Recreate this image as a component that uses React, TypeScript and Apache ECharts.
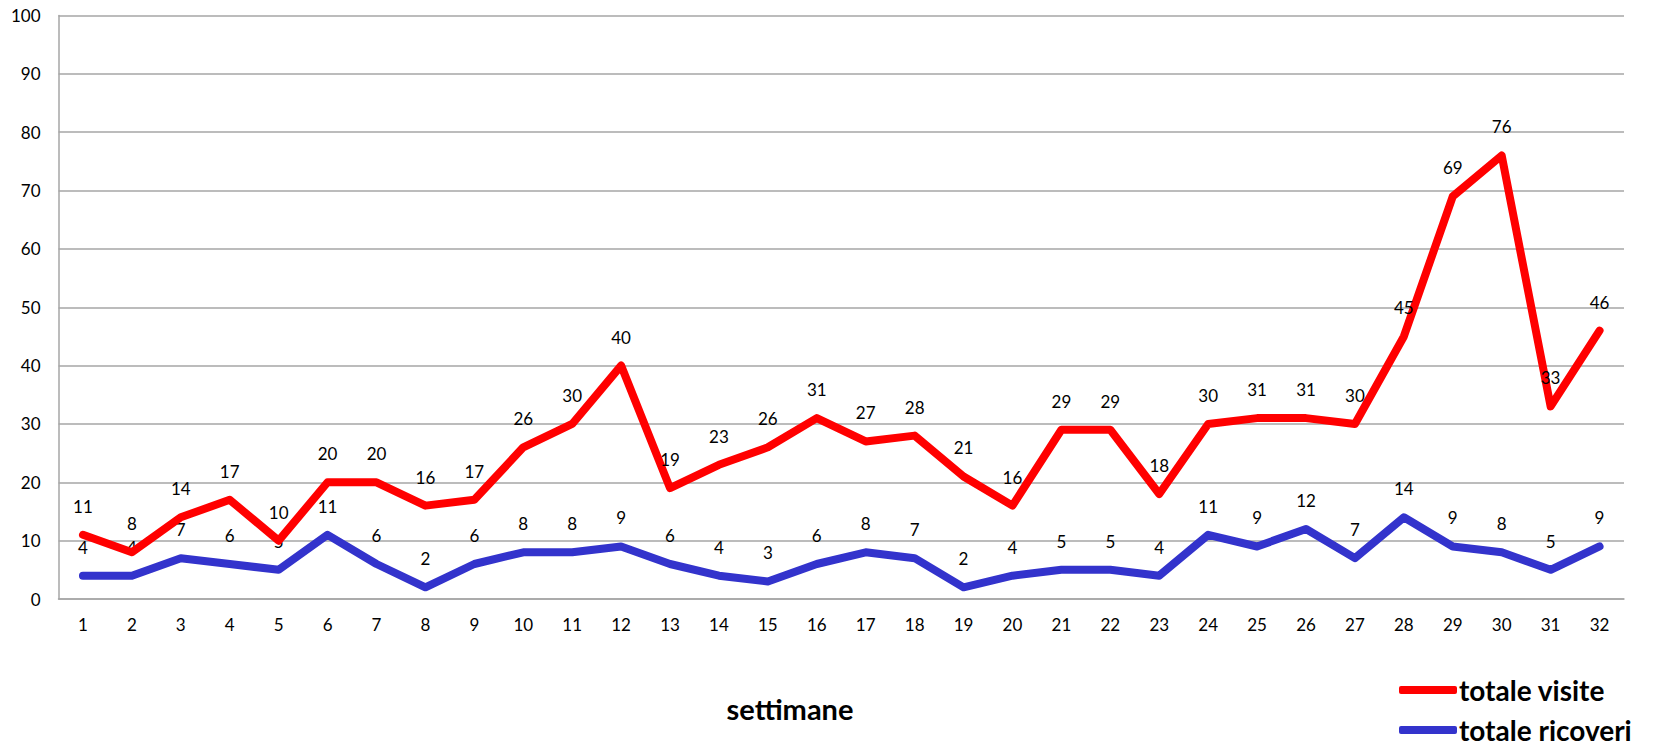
import React, { useEffect, useRef } from "react";
import * as echarts from "echarts";

const weeks = Array.from({ length: 32 }, (_, i) => String(i + 1));
const visite = [11, 8, 14, 17, 10, 20, 20, 16, 17, 26, 30, 40, 19, 23, 26, 31, 27, 28, 21, 16, 29, 29, 18, 30, 31, 31, 30, 45, 69, 76, 33, 46];
const ricoveri = [4, 4, 7, 6, 5, 11, 6, 2, 6, 8, 8, 9, 6, 4, 3, 6, 8, 7, 2, 4, 5, 5, 4, 11, 9, 12, 7, 14, 9, 8, 5, 9];
const seriesNames = ["totale visite", "totale ricoveri"];
const axisTitle = "settimane";

const FONT = "Lato, 'Open Sans', sans-serif";

export default function App() {
  const ref = useRef<HTMLDivElement>(null);
  useEffect(() => {
    document.body.style.margin = "0";
    const chart = echarts.init(ref.current!, null, { renderer: "svg" });
    const mkSeries = (name: string, data: number[], color: string) => ({
      name,
      type: "line",
      data,
      color,
      symbol: "circle",
      symbolSize: 0.1,
      showSymbol: true,
      lineStyle: { width: 8, color, cap: "round", join: "round" },
      itemStyle: { color },
      label: {
        show: true,
        position: "top",
        distance: 20,
        fontSize: 17,
        fontFamily: FONT,
        color: "#000",
      },
      emphasis: { disabled: true },
      z: name === seriesNames[0] ? 3 : 2,
    });
    const legendBase = {
      orient: "vertical",
      left: 1399,
      icon: "roundRect",
      itemWidth: 58,
      itemHeight: 8,
      itemGap: 4,
      padding: 0,
      textStyle: { fontSize: 28, fontWeight: "bold", fontFamily: FONT, color: "#000", lineHeight: 28, padding: [0, 0, 0, -3] },
    };
    chart.setOption({
      animation: false,
      textStyle: { fontFamily: FONT },
      grid: { left: 58.5, top: 15.5, right: 37, bottom: 147 },
      legend: [
        { ...legendBase, top: 676, data: [seriesNames[0]] },
        { ...legendBase, top: 716, data: [seriesNames[1]] },
      ],
      graphic: [
        {
          type: "text",
          x: 790,
          y: 708,
          style: {
            text: axisTitle,
            fontSize: 29,
            fontWeight: "bold",
            fontFamily: FONT,
            fill: "#000",
            align: "center",
            verticalAlign: "middle",
          },
        },
      ],
      xAxis: {
        type: "category",
        data: weeks,
        boundaryGap: true,
        axisLine: { lineStyle: { color: "#A6A6A6", width: 1.5 } },
        axisTick: { show: false },
        axisLabel: { fontSize: 17, color: "#000", margin: 17, fontFamily: FONT },
      },
      yAxis: {
        type: "value",
        min: 0,
        max: 100,
        interval: 10,
        axisLine: { show: true, lineStyle: { color: "#A6A6A6", width: 1.5 } },
        axisTick: { show: false },
        axisLabel: { fontSize: 17, color: "#000", margin: 18, fontFamily: FONT },
        splitLine: { lineStyle: { color: "#A6A6A6", width: 1.5 } },
      },
      series: [mkSeries(seriesNames[0], visite, "#FF0000"), mkSeries(seriesNames[1], ricoveri, "#3333CC")],
    });
    return () => chart.dispose();
  }, []);
  return <div ref={ref} style={{ width: 1661, height: 746 }} />;
}
